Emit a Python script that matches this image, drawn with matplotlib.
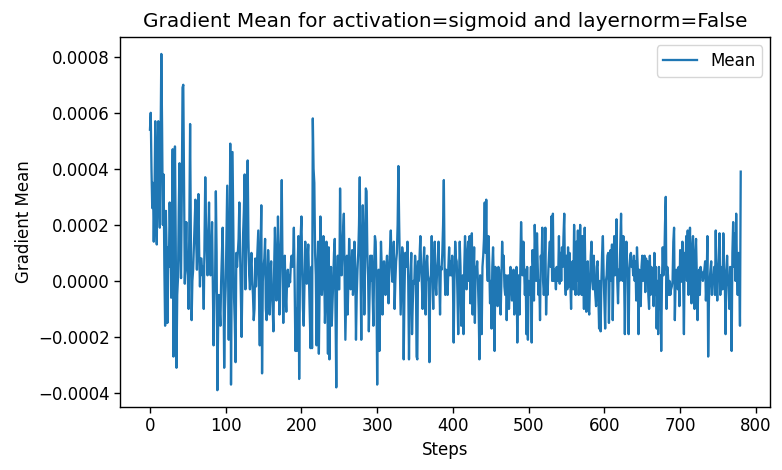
import numpy as np
import matplotlib
matplotlib.use("Agg")
import matplotlib.pyplot as plt

# gradient mean per step, in units of 1e-5
mean_e5 = [
    54, 60, 40, 26, 35, 14, 30, 57, 20, 13, 45, 57, 30, 19, 50, 81, 55, 20, 38, 5,
    -16, 25, 10, -15, 12, 5, 28, 15, -6, 20, 47, -27, 10, 48, 15, -31, -5, 1, 25, 42,
    10, 1, 30, 69, 70, 35, -1, 10, 21, 5, 2, -10, 20, 56, 15, -14, 0, 4, 12, 20,
    29, 15, 4, 18, 31, 10, -2, 8, 8, 2, 5, -10, 15, 37, 20, 10, 2, 15, 28, 5,
    2, 10, 21, 0, -23, -5, 0, 32, 10, -39, -16, -5, -10, -16, 0, 10, 19, 0, -31, -10,
    -2, 15, 34, 5, -21, 10, 49, -37, 5, 46, 20, -6, -15, -29, 10, 5, 10, 15, 28, 10,
    -5, -20, 0, 17, 25, 38, -3, 10, 20, 43, 15, 2, -3, 5, 10, 0, -5, -14, -10, 8,
    -2, 5, 12, 18, -5, -23, 10, 27, -33, 0, 5, 8, 15, -10, -14, 0, 11, 5, -12, 2,
    7, -5, -10, -18, 5, 19, 8, -7, 0, 23, 10, -12, 5, 15, 36, 5, -15, 0, 9, -5,
    -11, 0, 4, -2, 2, -0.5, 6, 9, 5, 8, 19, 0, -25, -10, -25, 5, 16, -35, 0, 16,
    23, 5, -10, -16, 0, 14, 5, -1, 8, 13, 0, -12, -24, 5, -24, 58, 40, 35, 10, 2,
    -23, 5, 14, -26, 0, 23, 10, -5, 0, 16, 5, -15, -5, 14, 0, -26, 12, -28, -3, 5,
    -16, -8, 0, 10, 15, -10, -38, 0, 9, -3, -3, 33, 10, 2, 10, 18, 24, 0, -21, -5,
    9, -12, 0, 15, 5, -3, 3, 11, -5, 0, 14, 5, -21, -5, 4, 10, 20, 37, 5, -21,
    10, 27, 15, -12, 5, 33, 32, 10, 2, -18, -5, 9, 0, 9, -5, -16, 5, 16, 14, 0,
    -37, 0, 4, -25, -5, 14, 5, -12, 0, 7, -3, -5, 5, 9, -2, -8, 5, 12, 18, 5,
    -0.3, 5, 14, -10, 0, 7, 10, 20, 41, 21, 5, -12, 0, 12, 9, -28, -5, 10, 10, 5,
    14, 0, -28, -5, 2, 10, -19, -8, 0, -1, 9, 5, -27, -28, 7, 0, 9, 16, 5, -1,
    -10, 5, 12, 0, -12, 5, 9, 2, -0.3, -29, 0, 2, 16, 0, -10, 5, 14, 0, -5, 3,
    7, 14, 0, -12, 5, 4, 10, 20, 36, 5, -5, 4, 0, -5, 5, 12, 2, 7, 2, 9,
    0, -22, 0, 14, 8, 7, -5, -19, 0, 14, 5, -16, 0, 2, -19, 5, 16, 0, -3, 10,
    14, 0, 16, -8, 12, 17, -12, 0, 12, -15, 5, 2, 7, 0, -10, -28, 2, 0, -19, 5,
    9, 15, 28, 10, 29, 5, 0, 16, 5, -8, 0, -17, 5, 12, 0, -25, 5, 4, -2, -9,
    5, 4, -5, -12, 0, 14, 5, 9, -2, -5, 2, -14, 0, 2, -10, -3, 5, -0.3, -7, 0,
    4, -12, 0, -0.3, 5, -22, 0, 2, -12, 5, 21, 10, 2, 14, 5, -5, 4, -19, 5, -21,
    0, -3, -5, 5, -22, 11, 5, -7, 20, 10, 0, 17, 5, -5, 0, -14, 9, 5, 19, 0,
    -5, -0.3, 19, -12, 0, -5, 4, 10, 14, 5, 23, 0, 24, 0, 4, 2, -3, 5, 0, 2,
    16, -1, 10, 0, 12, 5, 16, 24, 0, -5, 9, -3, 12, -2, 10, 0, -10, 5, 7, -3,
    20, 5, -5, 14, 0, 18, -5, 5, 20, 0, -5, 16, 5, -10, 19, 0, -11, 5, 7, -10,
    -12, 0, 9, 14, 0, -3, 9, 0, -5, -9, 5, 7, -5, -17, 0, -18, -0.3, 10, 16, 2,
    -7, -17, 0, 2, 9, 10, -15, 5, 11, 0, 13, -14, 5, 16, 2, 10, 22, 0, -8, 4,
    0, 13, 24, 4, 0, 16, 2, -19, 2, 14, 5, 2, -19, 4, 9, 10, 5, 7, 2, 9,
    0, 7, -7, 12, 5, -19, 4, 0, -9, 5, 9, 0, 2, 9, -4, 8, 0, 7, -5, -10,
    9, -5, 5, -3, 0, -9, 10, -5, 5, -17, 0, -19, 5, -10, 2, -25, 0, 12, 2, 5,
    20, 30, -10, 5, 2, -5, 0, -5, -3, -2, 0, 14, 19, -14, 0, 4, 0, -3, 5, -9,
    11, 0, -0.3, 14, 0, -19, 10, 2, 16, 0, 18, -5, 5, 19, 0, -8, 12, 16, 0, -10,
    9, 15, 2, -14, 0, 4, -5, 5, 3, 3, 0, 2, 4, 7, -7, 0, 16, -27, -7, 0,
    4, 7, -5, 2, 0, 5, -5, 18, 0, -7, 2, 8, 17, -5, 5, 0, -3, 17, 5, 0,
    -19, 2, 9, 0, -2, -10, 5, 0, -25, 10, 21, 5, 17, 0, 24, 5, -5, 10, 5, -16,
    39,
]
steps = np.arange(len(mean_e5))
grad_mean = np.array(mean_e5) * 1e-5

fig, ax = plt.subplots(figsize=(7.82, 4.70), dpi=100)
fig.subplots_adjust(left=0.154, right=0.985, top=0.921, bottom=0.134)

ax.plot(steps, grad_mean, color="#1f77b4", linewidth=1.65, label="Mean")
ax.set_title("Gradient Mean for activation=sigmoid and layernorm=False", fontsize=14.4, pad=7)
ax.set_xlabel("Steps", fontsize=12, labelpad=4)
ax.set_ylabel("Gradient Mean", fontsize=12, labelpad=4)
ax.tick_params(labelsize=12, length=4, width=1)
for sp in ax.spines.values():
    sp.set_linewidth(1.0)
ax.legend(fontsize=12, loc="upper right")

fig.savefig("out.png", dpi=100)
